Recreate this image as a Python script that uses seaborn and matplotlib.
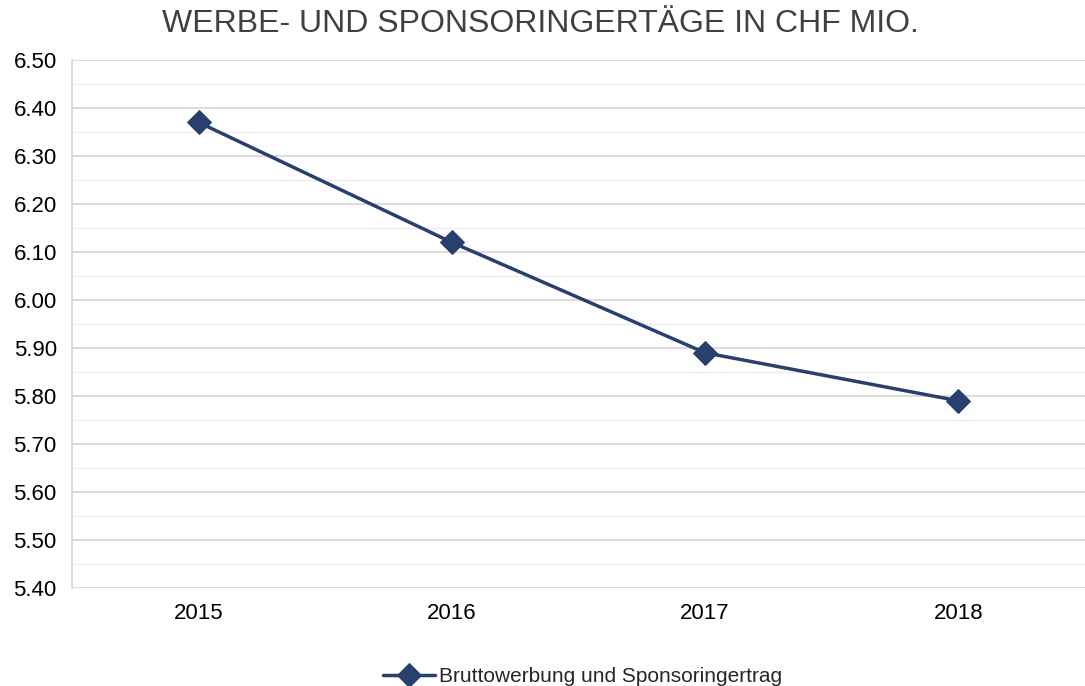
import matplotlib

matplotlib.use("Agg")
import matplotlib.pyplot as plt
import pandas as pd
import seaborn as sns
from matplotlib.ticker import MultipleLocator, FixedLocator, NullFormatter

years = ["2015", "2016", "2017", "2018"]
werbung = [6.37, 6.12, 5.89, 5.79]
series_name = "Bruttowerbung und Sponsoringertrag"
title = "WERBE- UND SPONSORINGERTÄGE IN CHF MIO."

sns.set_style("white")
plt.rcParams["font.family"] = ["Liberation Sans", "DejaVu Sans"]

LINE = "#28406F"
GRID = "#d9d9d9"

df = pd.DataFrame({"year": years, "value": werbung, "series": series_name})

fig = plt.figure(figsize=(10.85, 6.86), dpi=100)
ax = fig.add_axes([0.0664, 0.1429, 0.9336, 0.7696])

sns.lineplot(
    data=df, x="year", y="value", hue="series", palette=[LINE],
    marker="D", markersize=12, markeredgecolor=LINE, linewidth=2.5,
    sort=False, ax=ax,
)

ax.set_xlim(-0.5, 3.5)
ax.set_ylim(5.40, 6.50)
ax.yaxis.set_major_locator(MultipleLocator(0.1))
ax.yaxis.set_minor_locator(MultipleLocator(0.05))
ax.set_yticklabels([f"{v:.2f}" for v in ax.get_yticks()])
ax.grid(axis="y", which="major", color=GRID, linewidth=1.3)
ax.grid(axis="y", which="minor", color="#efefef", linewidth=1.0)
ax.set_axisbelow(True)

# category boundary ticks on x axis
ax.xaxis.set_minor_locator(FixedLocator([-0.5, 0.5, 1.5, 2.5, 3.5]))
ax.xaxis.set_minor_formatter(NullFormatter())
ax.tick_params(axis="x", which="major", length=0, pad=11, labelsize=16)
ax.tick_params(axis="x", which="minor", length=8, width=1.3, color=GRID)
ax.tick_params(axis="y", which="both", length=6, width=1.3, color=GRID,
               labelsize=16, labelcolor="#000000", pad=5)
ax.set_xticks(range(len(years)))
ax.set_xticklabels(years, color="#000000")

for side in ["top", "right", "bottom"]:
    ax.spines[side].set_visible(False)
ax.spines["left"].set_color(GRID)
ax.spines["left"].set_linewidth(1.3)

ax.set_xlabel("")
ax.set_ylabel("")

fig.text(0.498, 0.965, title, ha="center", va="center", fontsize=23,
         color="#404040")

ax.legend_.remove()
handles, labels = ax.get_legend_handles_labels()
fig.legend(handles, labels, loc="center", bbox_to_anchor=(0.537, 0.014),
           frameon=False, fontsize=15, handlelength=2.5, handletextpad=0.2)

fig.savefig("out.png", dpi=100)
